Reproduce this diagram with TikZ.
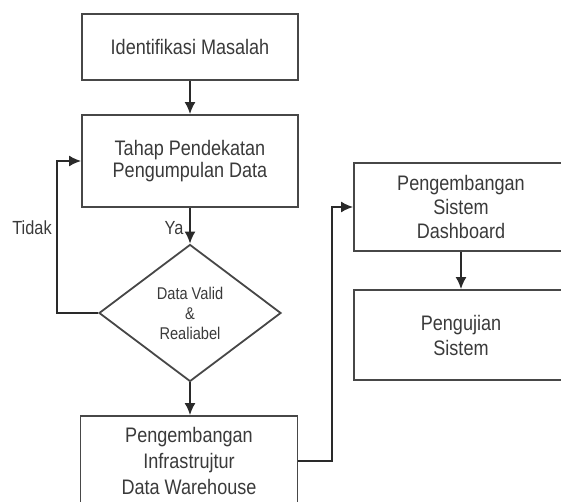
\documentclass[tikz,border=0pt]{standalone}
\usepackage{fontspec}
\setmainfont{Liberation Sans}[FakeStretch=0.86]
\usetikzlibrary{shapes.geometric,arrows.meta}
\definecolor{txt}{HTML}{3A3A3A}
\definecolor{edge}{HTML}{474747}
\definecolor{wire}{HTML}{2A2A2A}
\begin{document}
\begin{tikzpicture}[x=1pt,y=-1pt,
  box/.style={draw=edge,line width=1.8pt,rectangle,inner sep=0pt,align=center,text=txt,font=\fontsize{21}{24}\selectfont},
  dec/.style={draw=edge,line width=1.8pt,diamond,inner sep=0pt,align=center,text=txt,font=\fontsize{17}{20}\selectfont},
  conn/.style={draw=wire,line width=1.8pt,-{Latex[length=12pt,width=11pt]}},
  lbl/.style={text=txt,font=\fontsize{19}{22}\selectfont,inner sep=0pt}]
\useasboundingbox (0,0) rectangle (561,502);
\clip (0,0) rectangle (561,502);
\node[box,minimum width=216pt,minimum height=66pt] (b1) at (190,47) {Identifikasi Masalah};
\node[box,minimum width=216pt,minimum height=92pt,font=\fontsize{21}{22}\selectfont] (b2) at (190,161) {Tahap Pendekatan\\Pengumpulan Data};
\node[dec,minimum width=182pt,minimum height=137pt] (dia) at (190,313) {Data Valid\\\&\\Realiabel};
\node[box,minimum width=217pt,minimum height=90pt,font=\fontsize{21}{26}\selectfont] (b4) at (189,461) {Pengembangan\\Infrastrujtur\\Data Warehouse};
\node[box,minimum width=214pt,minimum height=88pt] (b5) at (461,207) {Pengembangan\\Sistem\\Dashboard};
\node[box,minimum width=214pt,minimum height=90pt,font=\fontsize{21}{25}\selectfont] (b6) at (461,335) {Pengujian\\Sistem};
\node[lbl] (tidak) at (32,228) {Tidak};
\node[lbl] (ya) at (174,228) {Ya};
\coordinate (j1) at (332,461);
\coordinate (j2) at (57,313);
\draw[conn] (b1.south) -- (b2.north);
\draw[conn] (b2.south) -- (dia.north);
\draw[conn] (dia.south) -- (dia.south |- b4.north);
\draw[conn] (b5.south) -- (b6.north);
\draw[conn] (dia.west) -- (j2) |- (b2.west);
\draw[conn] (b4.east) -- (j1) |- (b5.west);
\end{tikzpicture}
\end{document}
